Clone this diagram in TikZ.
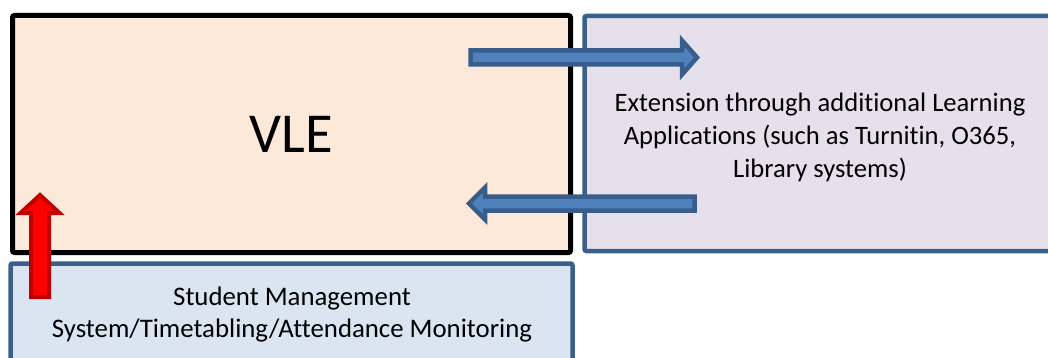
\documentclass[tikz,border=0pt]{standalone}
\usepackage{fontspec}
\setmainfont[Ligatures=NoCommon]{Carlito}
\definecolor{vlefill}{HTML}{FDE9D9}
\definecolor{extfill}{HTML}{E5E0EC}
\definecolor{smsfill}{HTML}{DBE5F1}
\definecolor{boxline}{HTML}{3A5F8B}
\definecolor{arrowfill}{HTML}{4F81BD}
\definecolor{arrowline}{HTML}{385D8A}
\definecolor{redline}{HTML}{C00000}

\begin{document}
\begin{tikzpicture}[
    x=1pt,y=-1pt,
    box/.style={draw,line width=4.5pt,rounded corners=2pt,inner sep=0pt,align=center},
    boxtext/.style={font=\fontsize{26.6}{33}\selectfont,align=center},
    bluearrow/.style={draw=arrowline,fill=arrowfill,line width=4.5pt},
    redarrow/.style={draw=redline,fill=red,line width=4pt}
    ]
    \clip (0, 0) rectangle (1048, 358);
    \node[box, draw=black, line width=5pt, fill=vlefill, minimum width=558pt, minimum height=237pt,
      font=\fontsize{56.4}{60}\selectfont] (vle) at (291.5, 134) {VLE};
    \node[box, draw=boxline, fill=extfill, minimum width=472pt, minimum height=235pt] (ext) at (820.5, 133.5) {};
    \node[box, draw=boxline, fill=smsfill, minimum width=562pt, minimum height=110pt] (sms) at (291.5, 318.5) {};
    \node[boxtext] (exttext) at (820, 137)
      {Extension through additional Learning\\Applications (such as Turnitin, O365,\\Library systems)};
    \node[boxtext, font=\fontsize{26.8}{32}\selectfont] (smstext) at (292, 314)
      {Student Management\\System/Timetabling/Attendance Monitoring};
    % arrows between vle and ext
    \draw[bluearrow] (470.5, 50.5) -- (682, 50.5) -- (682, 40.5) -- (697, 57.5)
      -- (682, 74.5) -- (682, 64.5) -- (470.5, 64.5) -- cycle;
    \draw[bluearrow] (694.5, 196.5) -- (485, 196.5) -- (485, 187.5) -- (469, 203.5)
      -- (485, 219.5) -- (485, 210.5) -- (694.5, 210.5) -- cycle;
    % arrow from sms up into vle
    \draw[redarrow] (31, 297) -- (31, 213) -- (20.5, 213) -- (40, 195)
      -- (59.5, 213) -- (49, 213) -- (49, 297) -- cycle;
  \end{tikzpicture}
\end{document}
